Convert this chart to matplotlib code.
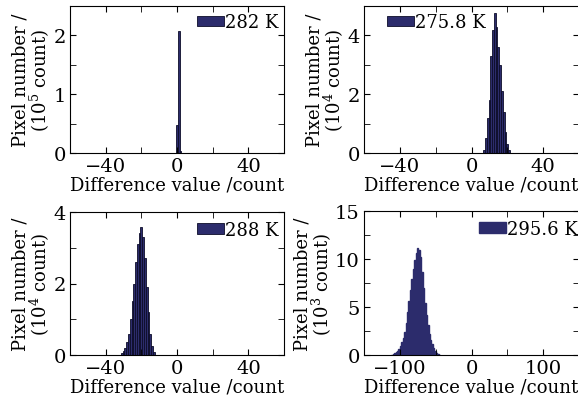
import numpy as np
import matplotlib
matplotlib.use("Agg")
import matplotlib.pyplot as plt
from matplotlib.ticker import MultipleLocator

# Histogram data (bin centres, heights)
x_282 = [0, 1, 2]
y_282 = [0.48, 2.08, 0.03]            # x 1e5

x_2758 = [7, 8, 9, 10, 11, 12, 13, 14, 15, 16, 17, 18, 19, 20, 21]
y_2758 = [0.1, 0.5, 1.2, 1.8, 3.3, 4.2, 4.75, 4.3, 3.6, 3.0, 2.1, 1.4, 0.7, 0.3, 0.1]   # x 1e4

x_288 = [-31, -30, -29, -28, -27, -26, -25, -24, -23, -22, -21, -20,
         -19, -18, -17, -16, -15, -14, -13]
y_288 = [0.05, 0.1, 0.2, 0.35, 0.6, 1.0, 1.5, 2.0, 2.6, 3.1, 3.4, 3.57,
         3.3, 2.7, 1.9, 1.2, 0.6, 0.25, 0.08]                     # x 1e4

x_2956 = [-111, -109, -107, -105, -103, -101, -99, -97, -95, -93, -91, -89,
          -87, -85, -83, -81, -79, -77, -75, -73, -71, -69, -67, -65, -63,
          -61, -59, -57, -55, -53, -51, -49, -47, -45]
y_2956 = [0.05, 0.1, 0.18, 0.28, 0.42, 0.65, 0.95, 1.35, 1.75, 2.4, 3.3, 4.5,
          5.6, 6.8, 7.9, 9.0, 9.9, 10.6, 11.1, 10.9, 10.2, 8.6, 7.0, 5.4, 4.2,
          3.1, 2.2, 1.6, 1.1, 0.7, 0.4, 0.2, 0.1, 0.04]             # x 1e3

labels = ["282 K", "275.8 K", "288 K", "295.6 K"]
exps = [5, 4, 4, 3]

plt.rcParams['font.family'] = 'DejaVu Serif'
plt.rcParams['mathtext.fontset'] = 'dejavuserif'

W, H = 578, 402
fig = plt.figure(figsize=(W/100, H/100), dpi=100)

def ax_at(l, t, r, b):
    return fig.add_axes([l/W, 1 - b/H, (r - l)/W, (b - t)/H])

axes = [ax_at(70, 7, 284, 154), ax_at(364, 7, 579, 154),
        ax_at(70, 213, 284, 356), ax_at(364, 212, 579, 356)]

bar_col = '#2c2c6c'
data = [(x_282, y_282, 1), (x_2758, y_2758, 1), (x_288, y_288, 1), (x_2956, y_2956, 2)]
xlims = [(-60, 60), (-60, 60), (-60, 60), (-150, 150)]
ylims = [(0, 2.5), (0, 5), (0, 4), (0, 15)]
ymaj = [1, 2, 2, 5]
xmaj = [40, 40, 40, 100]
leg_anchor = [((0.972, 0.95), 'upper right'), ((0.105, 0.95), 'upper left'),
              ((0.972, 0.94), 'upper right'), ((0.995, 0.94), 'upper right')]

for i, ax in enumerate(axes):
    xs, ys, w = data[i]
    if i < 3:
        ax.bar(xs, ys, width=w, color=bar_col, edgecolor='#0c0c28', linewidth=0.6, label=labels[i])
    else:
        ax.bar(xs, ys, width=w, color=bar_col, edgecolor=bar_col, linewidth=1.0, label=labels[i])
    ax.set_xlim(*xlims[i])
    ax.set_ylim(*ylims[i])
    ax.xaxis.set_major_locator(MultipleLocator(xmaj[i]))
    ax.xaxis.set_minor_locator(MultipleLocator(xmaj[i] / 2))
    ax.yaxis.set_major_locator(MultipleLocator(ymaj[i]))
    ax.yaxis.set_minor_locator(MultipleLocator(ymaj[i] / 2))
    ax.tick_params(which='both', direction='in', top=True, right=True, labelsize=14, pad=3)
    ax.tick_params(which='major', length=4, width=0.8)
    ax.tick_params(which='minor', length=4, width=0.6)
    for s in ax.spines.values():
        s.set_linewidth(0.8)
    ax.set_xlabel('Difference value /count', fontsize=13, labelpad=0)
    ax.set_ylabel('Pixel number /\n(10$^{%d}$ count)' % exps[i], fontsize=13,
                  labelpad=1, linespacing=0.9)
    anc, loc = leg_anchor[i]
    ax.legend(loc=loc, bbox_to_anchor=anc, frameon=False, fontsize=13,
              handlelength=1.5, handleheight=0.55, handletextpad=0.05,
              borderpad=0, borderaxespad=0)

fig.savefig('out.png', dpi=100)
